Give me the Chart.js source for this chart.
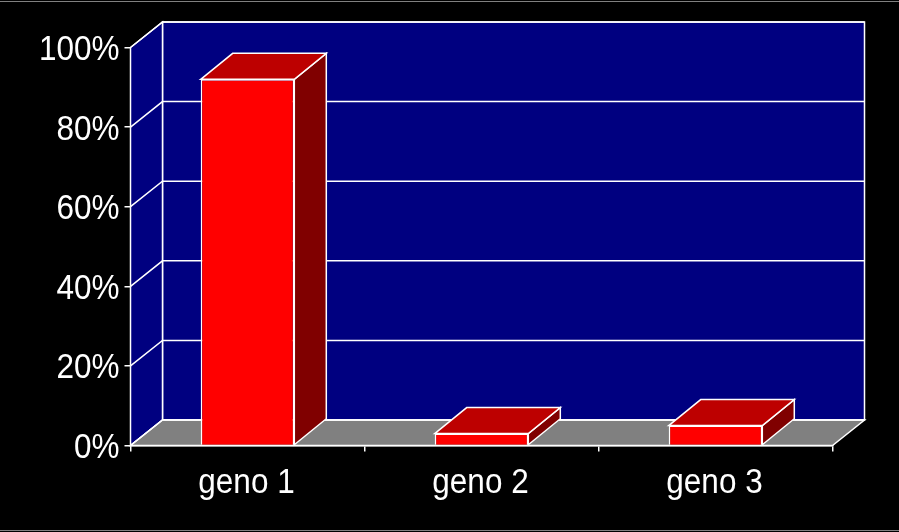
<!DOCTYPE html>
<html>
<head>
<meta charset="utf-8">
<title>geno</title>
<script src="https://cdn.jsdelivr.net/npm/chart.js@4"></script>
<style>
  html, body { margin: 0; padding: 0; background: #000; overflow: hidden; }
  #wrap { position: relative; width: 899px; height: 532px; }
  #wrap::before, #wrap::after { content: ""; position: absolute; left: 0; right: 0; height: 1px; background: #808080; }
  #wrap::before { top: 1px; }
  #wrap::after { bottom: 1px; }
  canvas { display: block; }
</style>
</head>
<body>
<div id="wrap"><canvas id="chart" width="899" height="532"></canvas></div>
<script>
const categories = ["geno 1", "geno 2", "geno 3"];
const percents = [92, 3, 5];
const yTicks = [0, 20, 40, 60, 80, 100];

// depth of the fake 3d box, in px
const depthX = 32;
const depthY = -25.5;
const barDepthY = -26;
const lineW = 1.5;

function fillPoly(ctx, pts, fill, stroke) {
  ctx.beginPath();
  ctx.moveTo(pts[0][0], pts[0][1]);
  for (let i = 1; i < pts.length; i++) ctx.lineTo(pts[i][0], pts[i][1]);
  ctx.closePath();
  if (fill) {
    ctx.fillStyle = fill;
    ctx.fill();
  }
  if (stroke) {
    ctx.strokeStyle = stroke;
    ctx.lineWidth = lineW;
    ctx.stroke();
  }
}

// the original labels are taller than any installed font, so stretch each one
function stretchLabels(scale, sy, dx, dy) {
  if (scale._stretched) return;
  scale._stretched = true;
  const draw = scale.drawLabels;
  scale.drawLabels = function (area) {
    const ctx = this.ctx;
    const fillText = ctx.fillText;
    ctx.fillText = function (text, x, y) {
      ctx.save();
      ctx.translate(x + dx, y + dy);
      ctx.scale(1, sy);
      fillText.call(ctx, text, 0, 0);
      ctx.restore();
    };
    draw.call(this, area);
    delete ctx.fillText;
  };
}

const box3d = {
  id: "box3d",
  beforeDatasetsDraw(chart) {
    const ctx = chart.ctx;
    const a = chart.chartArea;
    const yScale = chart.scales.y;
    ctx.save();

    // back wall, side wall, floor
    fillPoly(ctx, [[a.left + depthX, a.top + depthY], [a.right + depthX, a.top + depthY],
      [a.right + depthX, a.bottom + depthY], [a.left + depthX, a.bottom + depthY]], "#000080", "#ffffff");
    fillPoly(ctx, [[a.left, a.top], [a.left + depthX, a.top + depthY],
      [a.left + depthX, a.bottom + depthY], [a.left, a.bottom]], "#000080", "#ffffff");
    fillPoly(ctx, [[a.left, a.bottom], [a.right, a.bottom], [a.right + depthX, a.bottom + depthY],
      [a.left + depthX, a.bottom + depthY]], "#808080", "#ffffff");

    // grid lines on the walls
    ctx.strokeStyle = "#ffffff";
    ctx.lineWidth = lineW;
    yTicks.forEach((t) => {
      const y = yScale.getPixelForValue(t);
      ctx.beginPath();
      ctx.moveTo(a.left, y);
      ctx.lineTo(a.left + depthX, y + depthY);
      ctx.lineTo(a.right + depthX, y + depthY);
      ctx.stroke();
    });

    // top and side faces of the bars, the front comes from chart.js
    chart.getDatasetMeta(0).data.forEach((bar) => {
      const p = bar.getProps(["x", "y", "base", "width"], true);
      const l = p.x - p.width / 2;
      const r = p.x + p.width / 2;
      fillPoly(ctx, [[r, p.y], [r + depthX, p.y + barDepthY], [r + depthX, p.base + barDepthY], [r, p.base]], "#800000", "#ffffff");
      fillPoly(ctx, [[l, p.y], [l + depthX, p.y + barDepthY], [r + depthX, p.y + barDepthY], [r, p.y]], "#bd0000", "#ffffff");
    });
    ctx.restore();
  },
};

new Chart(document.getElementById("chart"), {
  type: "bar",
  data: {
    labels: categories,
    datasets: [
      {
        data: percents,
        backgroundColor: "#ff0000",
        borderColor: "#ffffff",
        borderWidth: { top: lineW, left: lineW, right: lineW, bottom: 0 },
        borderSkipped: false,
        categoryPercentage: 1,
        barPercentage: 0.4,
      },
    ],
  },
  options: {
    responsive: false,
    animation: false,
    layout: { padding: { top: 47.5, right: 66.5, left: 0, bottom: 0 } },
    plugins: { legend: { display: false }, tooltip: { enabled: false } },
    scales: {
      x: {
        afterFit: (scale) => {
          scale.height = 86.5;
          stretchLabels(scale, 1.1, -1, 1);
        },
        grid: { drawOnChartArea: false, color: "#ffffff", lineWidth: lineW, tickLength: 6, tickColor: "#ffffff" },
        border: { color: "#ffffff", width: lineW },
        ticks: { color: "#ffffff", font: { family: "Liberation Sans", size: 31.5 }, padding: 12, maxRotation: 0 },
      },
      y: {
        min: 0,
        max: 100,
        afterFit: (scale) => {
          scale.width = 130.5;
          stretchLabels(scale, 1.1, 0, 3);
        },
        afterBuildTicks: (scale) => { scale.ticks = yTicks.map((v) => ({ value: v })); },
        grid: { drawOnChartArea: false, color: "#ffffff", lineWidth: lineW, tickLength: 6, tickColor: "#ffffff" },
        border: { color: "#ffffff", width: lineW },
        ticks: {
          color: "#ffffff",
          font: { family: "Liberation Sans", size: 31.5 },
          padding: 5,
          callback: (v) => v + "%",
        },
      },
    },
  },
  plugins: [box3d],
});
</script>
</body>
</html>
